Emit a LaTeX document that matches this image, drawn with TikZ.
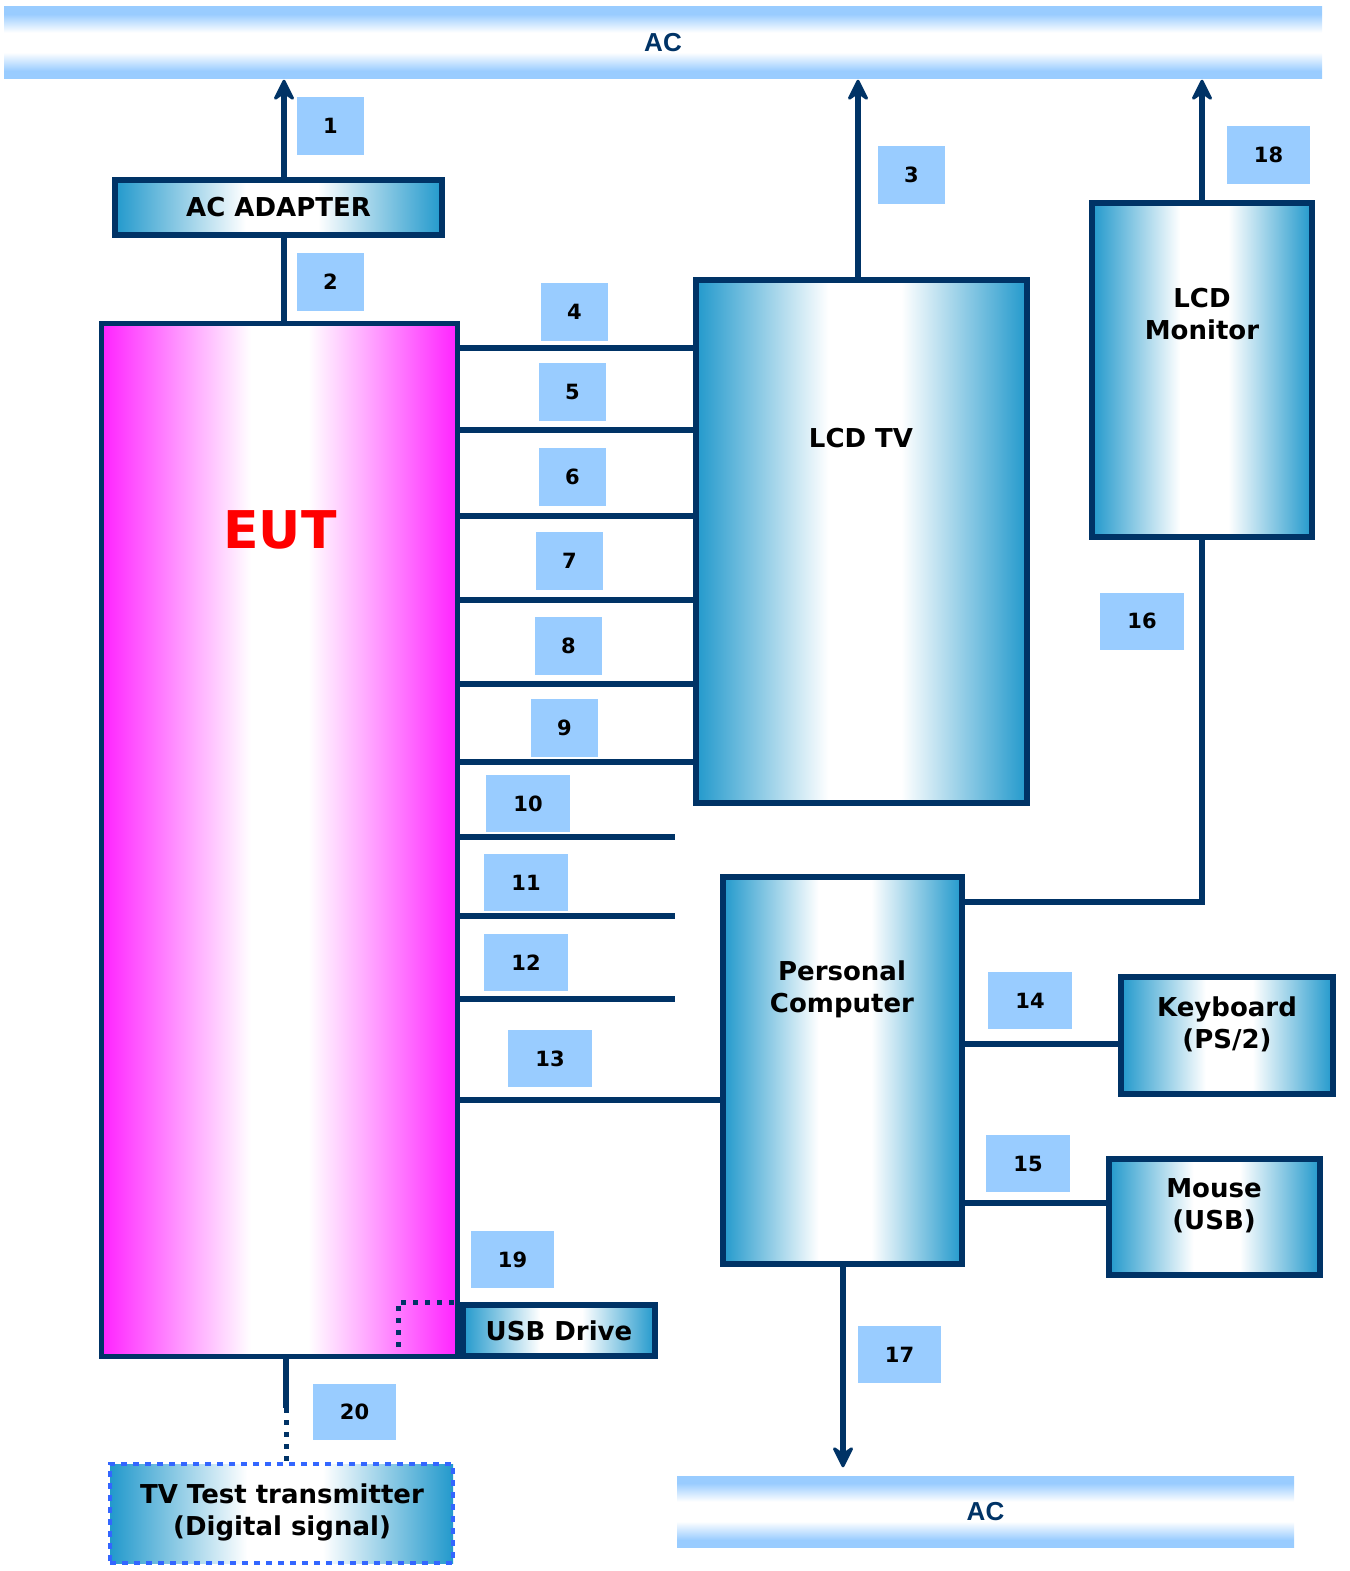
\documentclass[tikz,border=0pt]{standalone}
\usepackage{fontspec}
\setmainfont{DejaVu Sans}
\newfontfamily\acfont{Liberation Sans}
\usetikzlibrary{calc}
\definecolor{navy}{HTML}{003366}
\definecolor{cblue}{HTML}{2299CC}
\definecolor{lblue}{HTML}{99CCFF}
\definecolor{mag}{HTML}{FF22FF}
\definecolor{dotblue}{HTML}{3366FF}
\pgfdeclarehorizontalshading{devshade}{100bp}{color(0bp)=(cblue); color(25bp)=(cblue); color(45bp)=(white); color(56bp)=(white); color(75bp)=(cblue); color(100bp)=(cblue)}
\pgfdeclarehorizontalshading{eutshade}{100bp}{color(0bp)=(mag); color(25bp)=(mag); color(46bp)=(white); color(54bp)=(white); color(75bp)=(mag); color(100bp)=(mag)}
\pgfdeclareverticalshading{barshade}{100bp}{color(0bp)=(lblue); color(30bp)=(lblue); color(43bp)=(white); color(57bp)=(white); color(70bp)=(lblue); color(100bp)=(lblue)}
\tikzset{
  devbox/.style={draw=navy, line width=6pt, shading=devshade, inner sep=0pt},
  numbox/.style={fill=lblue, inner sep=0pt, font=\fontsize{21}{24}\selectfont\bfseries},
  acbar/.style={shading=barshade, inner sep=0pt, font=\acfont\fontsize{26}{30}\selectfont\bfseries, text=navy},
  boxtext/.style={font=\fontsize{26}{32}\selectfont\bfseries, align=center, inner sep=0pt},
  cable/.style={draw=navy, line width=5.5pt},
  dotline/.style={draw=navy, line width=5pt, dash pattern=on 5pt off 7pt},
  uphead/.pic={\filldraw[navy, line width=3pt, line join=round] (0,0) -- (8.5,17) -- (0,11) -- (-8.5,17) -- cycle;},
}
\begin{document}
\begin{tikzpicture}[x=1pt,y=-1pt]
\useasboundingbox (0,0) rectangle (1349,1571);
% AC bars
\node[acbar, minimum width=1318pt, minimum height=71pt] (actop) at (663,42.5) {AC};
\node[acbar, minimum width=617pt, minimum height=71pt] (acbot) at (985.5,1511.5) {AC};
% devices
\node[devbox, minimum width=327pt, minimum height=55pt, font=\fontsize{26}{32}\selectfont\bfseries] (adapter) at (278.5,207.5) {AC ADAPTER};
\node[draw=navy, line width=5pt, shading=eutshade, inner sep=0pt, minimum width=356pt, minimum height=1033pt] (eut) at (279.5,840) {};
\node[font=\fontsize{52}{60}\selectfont\bfseries, text=red, inner sep=0pt] (eutT) at (280,530) {EUT};
\node[devbox, minimum width=331pt, minimum height=523pt] (tv) at (861.5,541.5) {};
\node[boxtext] (tvT) at (861,438) {LCD TV};
\node[devbox, minimum width=220pt, minimum height=334pt] (mon) at (1202,370) {};
\node[boxtext] (monT) at (1202,314) {LCD\\Monitor};
\node[devbox, minimum width=239pt, minimum height=387pt] (pc) at (842.5,1070.5) {};
\node[boxtext] (pcT) at (842,989) {Personal\\Computer};
\node[devbox, minimum width=212pt, minimum height=117pt] (kb) at (1227,1035.5) {};
\node[boxtext] (kbT) at (1227,1024) {Keyboard\\(PS/2)};
\node[devbox, minimum width=211pt, minimum height=116pt] (mouse) at (1214.5,1217) {};
\node[boxtext] (mouseT) at (1214,1206) {Mouse\\(USB)};
\node[devbox, minimum width=192pt, minimum height=51pt, font=\fontsize{26}{32}\selectfont\bfseries] (usb) at (559,1330.5) {USB Drive};
\node[shading=devshade, draw=dotblue, line width=4pt, dash pattern=on 6pt off 6pt, inner sep=0pt, minimum width=343pt, minimum height=99pt] (tvtx) at (281.5,1513.5) {};
\node[boxtext] (tvtxT) at (282,1512) {TV Test transmitter\\(Digital signal)};
% coordinates
\coordinate (c1) at (284,0);
\coordinate (c3) at (858,0);
\coordinate (c17) at (843,0);
\coordinate (c20) at (286,1408);
\coordinate (e10) at (675,837);
\coordinate (e11) at (675,916);
\coordinate (e12) at (675,999);
% power cables with arrow heads
\draw[cable, shorten >=12pt] (adapter.north -| c1) -- (actop.south -| c1);
\path (actop.south -| c1) ++(0,3) pic {uphead};
\draw[cable] (eut.north -| c1) -- (adapter.south -| c1);
\draw[cable, shorten >=12pt] (tv.north -| c3) -- (actop.south -| c3);
\path (actop.south -| c3) ++(0,3) pic {uphead};
\draw[cable, shorten >=12pt] (mon.north) -- (actop.south -| mon.north);
\path (actop.south -| mon.north) ++(0,3) pic {uphead};
\draw[cable, shorten >=19pt] (pc.south -| c17) -- (acbot.north -| c17);
\path (acbot.north -| c17) ++(0,-10) pic[rotate=180] {uphead};
% EUT to TV
\foreach \yy in {348,430,516,600,684,762}{
  \draw[cable] (eut.east |- 0,\yy) -- (tv.west |- 0,\yy);
}
\draw[cable] (eut.east |- e10) -- (e10);
\draw[cable] (eut.east |- e11) -- (e11);
\draw[cable] (eut.east |- e12) -- (e12);
\draw[cable] (eut.east |- 0,1100) -- (pc.west |- 0,1100);
% PC cables
\draw[cable] (pc.east |- 0,902) -| (mon.south);
\draw[cable] (pc.east |- 0,1044) -- (kb.west |- 0,1044);
\draw[cable] (pc.east |- 0,1203) -- (mouse.west |- 0,1203);
% USB dotted
\draw[dotline] (eut.south -| 398,0) |- (usb.north west);
% cable 20
\draw[cable] (eut.south -| c20) -- (c20);
\draw[dotline] (c20) -- (tvtx.north -| c20);
% number boxes
\node[numbox, minimum width=67pt, minimum height=58pt] (n1) at (330.5,126) {1};
\node[numbox, minimum width=67pt, minimum height=58pt] (n2) at (330.5,282) {2};
\node[numbox, minimum width=67pt, minimum height=58pt] (n3) at (911.5,175) {3};
\node[numbox, minimum width=67pt, minimum height=58pt] (n4) at (574.5,312) {4};
\node[numbox, minimum width=67pt, minimum height=58pt] (n5) at (572.5,392) {5};
\node[numbox, minimum width=67pt, minimum height=58pt] (n6) at (572.5,477) {6};
\node[numbox, minimum width=67pt, minimum height=58pt] (n7) at (569.5,561) {7};
\node[numbox, minimum width=67pt, minimum height=58pt] (n8) at (568.5,646) {8};
\node[numbox, minimum width=67pt, minimum height=58pt] (n9) at (564.5,728) {9};
\node[numbox, minimum width=84pt, minimum height=57pt] (n10) at (528,803.5) {10};
\node[numbox, minimum width=84pt, minimum height=57pt] (n11) at (526,882.5) {11};
\node[numbox, minimum width=84pt, minimum height=57pt] (n12) at (526,962.5) {12};
\node[numbox, minimum width=84pt, minimum height=57pt] (n13) at (550,1058.5) {13};
\node[numbox, minimum width=84pt, minimum height=57pt] (n14) at (1030,1000.5) {14};
\node[numbox, minimum width=84pt, minimum height=57pt] (n15) at (1028,1163.5) {15};
\node[numbox, minimum width=84pt, minimum height=57pt] (n16) at (1142,621) {16};
\node[numbox, minimum width=83pt, minimum height=57pt] (n17) at (899.5,1354.5) {17};
\node[numbox, minimum width=83pt, minimum height=58pt] (n18) at (1268.5,155) {18};
\node[numbox, minimum width=83pt, minimum height=57pt] (n19) at (512.5,1259.5) {19};
\node[numbox, minimum width=83pt, minimum height=56pt] (n20) at (354.5,1412) {20};
\end{tikzpicture}
\end{document}
